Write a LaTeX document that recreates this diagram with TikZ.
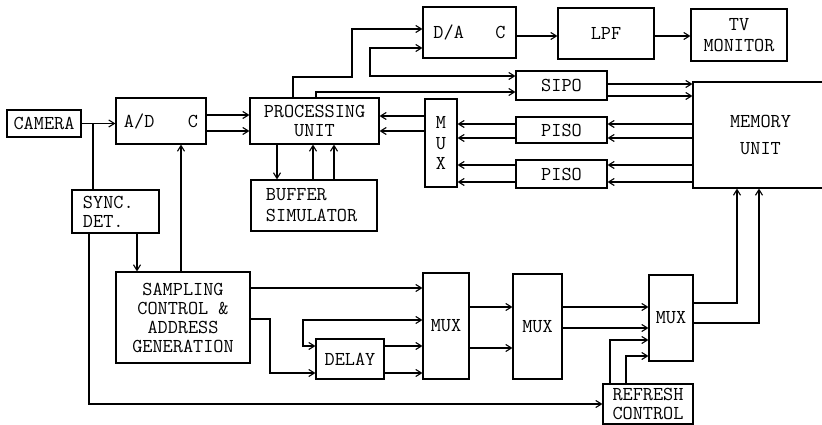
\documentclass[tikz,border=0pt]{standalone}
\usepackage{tikz}
\usetikzlibrary{arrows.meta}

\begin{document}
\begin{tikzpicture}[
        x=0.025cm, y=-0.025cm,
        >={Straight Barb[length=4pt,width=5pt]},
        line width=0.8pt,
        block/.style={
            draw,
            inner sep=0pt,
            align=center,
            font=\fontsize{14}{13.5}\selectfont\ttfamily
        }
    ]
    \useasboundingbox (0,0) rectangle (822,425);

    \node[block, minimum width=1.85cm, minimum height=0.675cm] (cam) at (44,123.5) {CAMERA};
    \node[block, minimum width=2.25cm, minimum height=1.15cm, text width=1.85cm] (adc) at (161,121) {A/D\hfill C};
    \node[block, minimum width=3.225cm, minimum height=1.15cm] (pu) at (314.5,121) {PROCESSING\\UNIT};
    \node[block, minimum width=3.15cm, minimum height=1.275cm, text width=2.4cm, align=left] (buf) at (314,205.5) {BUFFER\\[1.5pt]SIMULATOR};
    \node[block, minimum width=2.175cm, minimum height=1.075cm, text width=1.625cm, align=left] (sync) at (115.5,211.5) {SYNC.\\DET.};
    \node[block, minimum width=3.35cm, minimum height=2.275cm] (samp) at (183,317.5) {SAMPLING\\CONTROL \&\\ADDRESS\\GENERATION};
    \node[block, minimum width=1.7cm, minimum height=1cm] (delay) at (350,359) {DELAY};
    \node[block, minimum width=1.15cm, minimum height=2.65cm] (muxa) at (446,326) {MUX};
    \node[block, minimum width=1.225cm, minimum height=2.625cm] (muxb) at (537.5,326.5) {MUX};
    \node[block, minimum width=1.1cm, minimum height=2.15cm] (muxc) at (671,318) {MUX};
    \node[block, minimum width=2.25cm, minimum height=1cm] (refresh) at (648,404) {REFRESH\\CONTROL};
    \node[block, minimum width=0.8cm, minimum height=2.2cm] (muxt) at (441,143) {M\\[1pt]U\\[1pt]X};
    \node[block, minimum width=2.325cm, minimum height=1.275cm, text width=1.8cm] (dac) at (469.5,32.5) {D/A\hfill C};
    \node[block, minimum width=2.4cm, minimum height=1.275cm] (lpf) at (606,33.5) {LPF};
    \node[block, minimum width=2.4cm, minimum height=1.3cm] (tv) at (739,35) {TV\\[1.5pt]MONITOR};
    \node[block, minimum width=2.275cm, minimum height=0.725cm] (sipo) at (561.5,85.5) {SIPO};
    \node[block, minimum width=2.275cm, minimum height=0.65cm] (pisoa) at (561.5,130) {PISO};
    \node[block, minimum width=2.275cm, minimum height=0.7cm] (pisob) at (561.5,174) {PISO};
    \node[block, minimum width=3.375cm, minimum height=2.65cm] (mem) at (760.5,135) {MEMORY\\[5.5pt]UNIT};

    \coordinate (split) at (93,0 |- cam.east);
    \draw[->] (cam.east) -- (adc.west |- cam.east);
    \draw (split) -- (split |- sync.north);
    \draw[->] (89,0 |- sync.south) |- (refresh.west);
    \draw[->] (137,0 |- sync.south) -- (137,0 |- samp.north);
    \draw[->] (181,0 |- samp.north) -- (181,0 |- adc.south);

    \foreach \y in {115,131}
        \draw[->] (adc.east |- 0,\y) -- (pu.west |- 0,\y);
    \foreach \y in {116,131}
        \draw[->] (muxt.west |- 0,\y) -- (pu.east |- 0,\y);
    \foreach \y in {124,138} {
        \draw[->] (mem.west |- 0,\y) -- (pisoa.east |- 0,\y);
        \draw[->] (pisoa.west |- 0,\y) -- (muxt.east |- 0,\y);
    }
    \foreach \y in {165,182} {
        \draw[->] (mem.west |- 0,\y) -- (pisob.east |- 0,\y);
        \draw[->] (pisob.west |- 0,\y) -- (muxt.east |- 0,\y);
    }
    \foreach \y in {84,96}
        \draw[->] (sipo.east |- 0,\y) -- (mem.west |- 0,\y);

    \draw[->] (293,0 |- pu.north) |- (352,77) |- (dac.west |- 0,29);
    \draw[->] (316,0 |- pu.north) |- (sipo.west |- 0,92);
    \draw[<->] (dac.west |- 0,48) -| (370,76) -- (sipo.west |- 0,76);
    \draw[->] (dac.east |- 0,36) -- (lpf.west |- 0,36);
    \draw[->] (lpf.east |- 0,36) -- (tv.west |- 0,36);

    \draw[->] (277,0 |- pu.south) -- (277,0 |- buf.north);
    \foreach \x in {313,334}
        \draw[->] (\x,0 |- buf.north) -- (\x,0 |- pu.south);

    \draw[->] (samp.east |- 0,288) -- (muxa.west |- 0,288);
    \draw[->] (samp.east |- 0,319) -| (270,373) -- (delay.west |- 0,373);
    \draw[<->] (delay.west |- 0,346) -| (303,320) -- (muxa.west |- 0,320);
    \foreach \y in {346,373}
        \draw[->] (delay.east |- 0,\y) -- (muxa.west |- 0,\y);
    \foreach \y in {307,348}
        \draw[->] (muxa.east |- 0,\y) -- (muxb.west |- 0,\y);
    \foreach \y in {307,328}
        \draw[->] (muxb.east |- 0,\y) -- (muxc.west |- 0,\y);
    \draw[->] (610,0 |- refresh.north) |- (muxc.west |- 0,340);
    \draw[->] (626,0 |- refresh.north) |- (muxc.west |- 0,356);
    \draw[->] (muxc.east |- 0,303) -| (737,0 |- mem.south);
    \draw[->] (muxc.east |- 0,323) -| (759,0 |- mem.south);
\end{tikzpicture}
\end{document}
